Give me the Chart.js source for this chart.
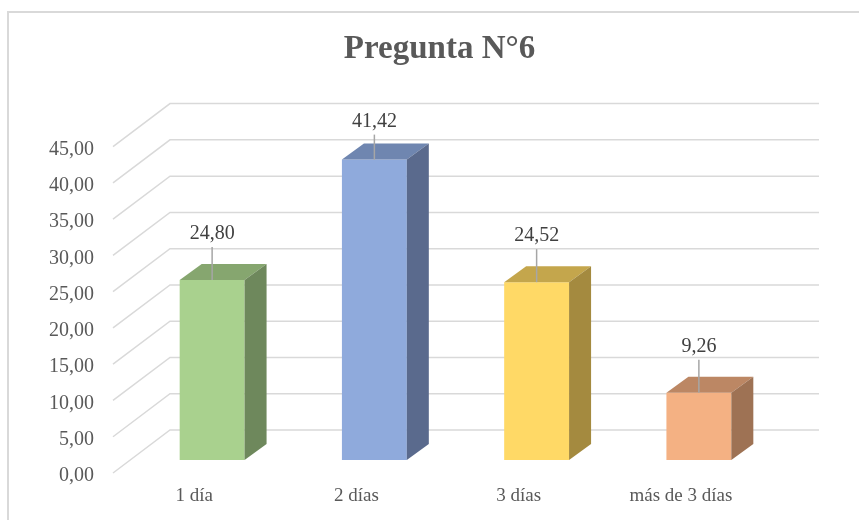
<!DOCTYPE html>
<html>
<head>
<meta charset="utf-8">
<script src="https://cdn.jsdelivr.net/npm/chart.js@4.4.1/dist/chart.umd.min.js"></script>
<style>
  html, body { margin: 0; padding: 0; background: #fff; }
  #wrap { width: 859px; height: 520px; position: relative; }
</style>
</head>
<body>
<div id="wrap"><canvas id="chart"></canvas></div>
<script>
// data
const categories = ['1 día', '2 días', '3 días', 'más de 3 días'];
const values = [24.80, 41.42, 24.52, 9.26];
const yMin = 0, yMax = 45, yStep = 5;

// styling
const faceColors = ['#A9D18E', '#8FAADC', '#FFD966', '#F4B183'];
const topColors = ['#86A66F', '#6F86B0', '#C4A64C', '#BC8764'];
const sideColors = ['#6E885C', '#5A6A8D', '#A48A3F', '#9E7254'];
const FONT = "'Liberation Serif', 'Times New Roman', serif";

// 3d offsets relative to the plane of the bar fronts
const FRONT = { x: -18, y: 13 };
const BACK = { x: 39, y: -30 };
const DEPTH = { x: 22, y: -16 };

function fmt(v) {
  return v.toFixed(2).replace('.', ',');
}

const threeD = {
  id: 'threeD',
  beforeDraw(chart) {
    const ctx = chart.ctx;
    ctx.save();
    ctx.strokeStyle = '#D9D9D9';
    ctx.lineWidth = 2;
    ctx.strokeRect(8, 12, chart.width + 20, chart.height + 20);
    ctx.restore();
  },
  beforeDatasetsDraw(chart) {
    const { ctx, chartArea, scales } = chart;
    const y = scales.y;
    ctx.save();
    ctx.strokeStyle = '#D9D9D9';
    ctx.lineWidth = 1.5;
    y.ticks.forEach(t => {
      const py = y.getPixelForValue(t.value);
      ctx.beginPath();
      ctx.moveTo(chartArea.left + FRONT.x, py + FRONT.y);
      ctx.lineTo(chartArea.left + BACK.x, py + BACK.y);
      ctx.lineTo(chartArea.right + BACK.x, py + BACK.y);
      ctx.stroke();
    });
    ctx.restore();
  },
  afterDatasetsDraw(chart) {
    const { ctx, chartArea } = chart;
    const meta = chart.getDatasetMeta(0);
    ctx.save();
    meta.data.forEach((bar, i) => {
      const p = bar.getProps(['x', 'y', 'base', 'width'], true);
      const l = p.x - p.width / 2, r = p.x + p.width / 2;
      // top face
      ctx.fillStyle = topColors[i];
      ctx.beginPath();
      ctx.moveTo(l, p.y);
      ctx.lineTo(l + DEPTH.x, p.y + DEPTH.y);
      ctx.lineTo(r + DEPTH.x, p.y + DEPTH.y);
      ctx.lineTo(r, p.y);
      ctx.closePath();
      ctx.fill();
      // side face
      ctx.fillStyle = sideColors[i];
      ctx.beginPath();
      ctx.moveTo(r, p.y);
      ctx.lineTo(r + DEPTH.x, p.y + DEPTH.y);
      ctx.lineTo(r + DEPTH.x, p.base + DEPTH.y);
      ctx.lineTo(r, p.base);
      ctx.closePath();
      ctx.fill();

      // data label with leader line
      const ly = Math.max(p.y - 46, chartArea.top - 12);
      ctx.strokeStyle = '#A6A6A6';
      ctx.lineWidth = 1.5;
      ctx.beginPath();
      ctx.moveTo(p.x, ly + 13);
      ctx.lineTo(p.x, p.y);
      ctx.stroke();
      ctx.fillStyle = '#404040';
      ctx.font = '20px ' + FONT;
      ctx.textAlign = 'center';
      ctx.textBaseline = 'middle';
      ctx.fillText(fmt(values[i]), p.x, ly);
    });
    ctx.restore();
  }
};

new Chart(document.getElementById('chart'), {
  type: 'bar',
  data: {
    labels: categories,
    datasets: [{
      data: values,
      backgroundColor: faceColors,
      borderWidth: 0,
      barPercentage: 0.4,
      categoryPercentage: 1
    }]
  },
  options: {
    responsive: true,
    maintainAspectRatio: false,
    animation: false,
    layout: { padding: { left: 20, right: 0, top: 0, bottom: 0 } },
    plugins: {
      legend: { display: false },
      tooltip: { enabled: false },
      title: {
        display: true,
        text: 'Pregunta N°6',
        color: '#595959',
        font: { family: FONT, size: 33, weight: 'bold' },
        padding: { top: 30, bottom: 64 }
      }
    },
    scales: {
      x: {
        grid: { display: false },
        border: { display: false },
        ticks: {
          color: '#595959',
          font: { family: FONT, size: 19 },
          padding: 17,
          labelOffset: -18,
          maxRotation: 0
        },
        afterFit(scale) { scale.height = 60; }
      },
      y: {
        min: yMin,
        max: yMax,
        grid: { display: false },
        border: { display: false },
        ticks: {
          stepSize: yStep,
          color: '#595959',
          font: { family: FONT, size: 20 },
          padding: 29,
          labelOffset: 16,
          callback: v => fmt(v)
        },
        afterFit(scale) { scale.width = 111; }
      },
      // empty right axis reserving room for the back wall depth
      yRight: {
        position: 'right',
        min: yMin,
        max: yMax,
        grid: { display: false },
        border: { display: false },
        ticks: { display: false },
        afterFit(scale) { scale.width = 79; }
      }
    }
  },
  plugins: [threeD]
});
</script>
</body>
</html>
